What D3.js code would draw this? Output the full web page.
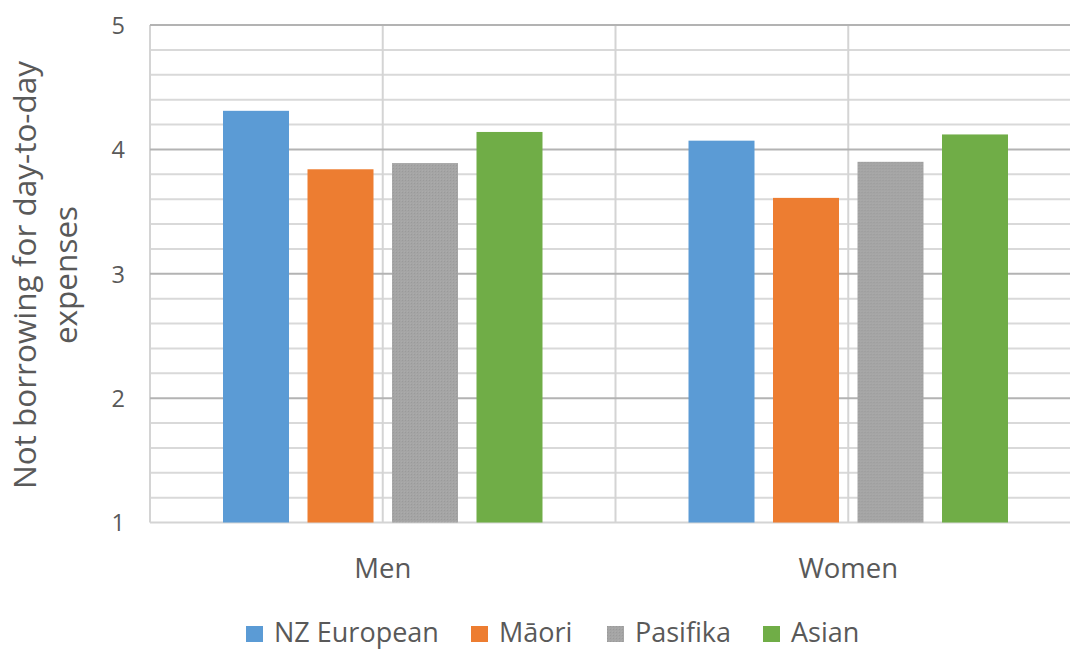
<!DOCTYPE html>
<html>
<head>
<meta charset="utf-8">
<script src="https://cdn.jsdelivr.net/npm/d3@7"></script>
<style>
  body { margin: 0; background: #fff; }
  svg { display: block; }
  text { font-family: "Open Sans", sans-serif; fill: #595959; }
</style>
</head>
<body>
<svg id="chart" width="1070" height="649"></svg>
<script>
const categories = ["Men", "Women"];
const seriesNames = ["NZ European", "Māori", "Pasifika", "Asian"];
const nzEuropean = [4.31, 4.07];
const maori = [3.84, 3.61];
const pasifika = [3.89, 3.90];
const asian = [4.14, 4.12];
const yTicks = [1, 2, 3, 4, 5];
const yTitleLines = ["Not borrowing for day-to-day", "expenses"];

const seriesValues = [nzEuropean, maori, pasifika, asian];
const colors = ["#5B9BD5", "#ED7D31", "#A5A5A5", "#70AD47"];
const FONT = "'Open Sans', sans-serif";

const svg = d3.select("#chart");
const pLeft = 150, pRight = 1081, pTop = 25, pBottom = 522.5;

const defs = svg.append("defs");
const pat = defs.append("pattern").attr("id", "pasPat").attr("patternUnits", "userSpaceOnUse")
  .attr("width", 3).attr("height", 3);
pat.append("rect").attr("width", 3).attr("height", 3).attr("fill", "#A5A5A5");
pat.append("rect").attr("width", 1).attr("height", 1).attr("fill", "#9a9a9a");
pat.append("rect").attr("x", 2).attr("y", 2).attr("width", 1).attr("height", 1).attr("fill", "#ababab");

const y = d3.scaleLinear().domain([1, 5]).range([pBottom, pTop]);
const x0 = d3.scaleBand().domain(categories).range([pLeft, pRight]).paddingInner(0).paddingOuter(0);
const x1 = d3.scaleBand().domain(seriesNames).range([0, x0.bandwidth()]).paddingInner(0.219).paddingOuter(0.864);

// minor horizontal gridlines
const minor = d3.range(1, 5.001, 0.2).filter(v => Math.abs(v - Math.round(v)) > 1e-6);
svg.append("g").selectAll("line").data(minor).join("line")
  .attr("x1", pLeft).attr("x2", pRight)
  .attr("y1", d => y(d)).attr("y2", d => y(d))
  .attr("stroke", "#d9d9d9").attr("stroke-width", 2);

// vertical gridlines (category boundaries and centers)
const vLines = [];
categories.forEach(c => { vLines.push(x0(c)); vLines.push(x0(c) + x0.bandwidth() / 2); });
svg.append("g").selectAll("line").data(vLines).join("line")
  .attr("x1", d => d).attr("x2", d => d)
  .attr("y1", pTop).attr("y2", pBottom)
  .attr("stroke", "#d4d4d4").attr("stroke-width", 2);

// major horizontal gridlines
svg.append("g").selectAll("line").data(yTicks.filter(v => v > 1)).join("line")
  .attr("x1", pLeft).attr("x2", pRight)
  .attr("y1", d => y(d)).attr("y2", d => y(d))
  .attr("stroke", "#b3b3b3").attr("stroke-width", 2);

// axis line bottom
svg.append("line").attr("x1", pLeft).attr("x2", pRight).attr("y1", y(1)).attr("y2", y(1))
  .attr("stroke", "#d4d4d4").attr("stroke-width", 2);

// bars
const groups = svg.append("g").selectAll("g").data(categories).join("g")
  .attr("transform", d => `translate(${x0(d)},0)`);
groups.selectAll("rect").data((c, ci) => seriesNames.map((s, si) => ({ s, si, v: seriesValues[si][ci] })))
  .join("rect")
  .attr("x", d => x1(d.s))
  .attr("width", x1.bandwidth())
  .attr("y", d => y(d.v))
  .attr("height", d => y(1) - y(d.v))
  .attr("fill", d => d.si === 2 ? "url(#pasPat)" : colors[d.si]);

// y axis tick labels
const yAxis = d3.axisLeft(y).tickValues(yTicks).tickSize(0).tickPadding(0).tickFormat(d3.format("d"));
const ya = svg.append("g").attr("transform", `translate(125,0)`).call(yAxis);
ya.select(".domain").remove();
ya.selectAll("text").style("font-size", "23.5px").attr("fill", "#595959")
  .style("font-family", FONT).attr("dy", "0.36em");

// x axis labels
const xAxis = d3.axisBottom(x0).tickSize(0).tickPadding(0);
const xa = svg.append("g").attr("transform", `translate(0,${pBottom})`).call(xAxis);
xa.select(".domain").remove();
xa.selectAll("text").style("font-size", "27.5px").attr("fill", "#595959")
  .style("font-family", FONT).attr("dy", null).attr("y", 55);

// y axis title
const yt = svg.append("text").attr("transform", "translate(0,275) rotate(-90)")
  .attr("text-anchor", "middle").style("font-size", "31.5px");
yTitleLines.forEach((l, i) => {
  yt.append("tspan").attr("x", 0).attr("y", 36 + i * 41).text(l);
});

// legend
const legendX = [246, 471, 607, 763];
const lg = svg.append("g").selectAll("g").data(seriesNames).join("g")
  .attr("transform", (d, i) => `translate(${legendX[i]},626)`);
lg.append("rect").attr("width", 17).attr("height", 16)
  .attr("fill", (d, i) => i === 2 ? "url(#pasPat)" : colors[i]);
lg.append("text").attr("x", 28).attr("y", 16)
  .style("font-size", "27px").text(d => d);
</script>
</body>
</html>
